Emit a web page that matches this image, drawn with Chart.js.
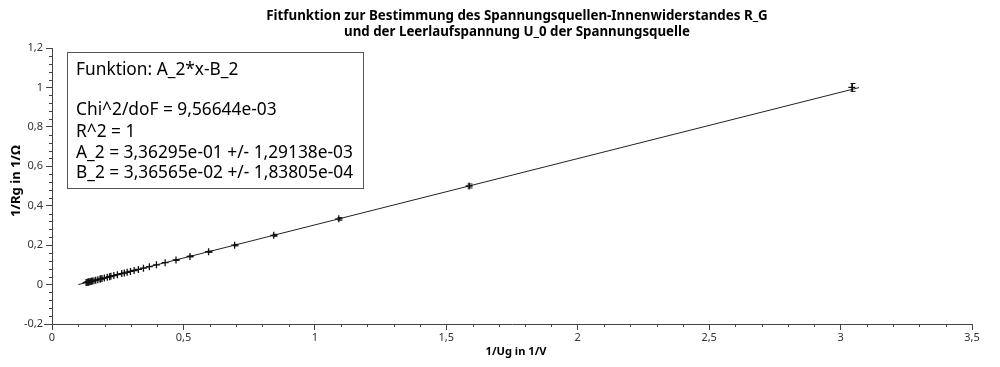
<!DOCTYPE html>
<html>
<head>
<meta charset="utf-8">
<script src="https://cdn.jsdelivr.net/npm/chart.js@4.4.1/dist/chart.umd.min.js"></script>
<style>
html, body { margin: 0; padding: 0; background: #fff; }
</style>
</head>
<body>
<canvas id="fitChart" width="1000" height="367"></canvas>
<script>
// Messwerte: 1/Ug (x) und 1/Rg (y)
const invU = [3.043, 1.587, 1.091, 0.8435, 0.6948, 0.5957, 0.5249, 0.4718, 0.4305, 0.3974,
    0.3704, 0.3479, 0.3288, 0.3125, 0.2983, 0.2859, 0.2750, 0.2653, 0.2488, 0.2353,
    0.2240, 0.2190, 0.2102, 0.1992, 0.1902, 0.1850, 0.1827, 0.1744, 0.1662, 0.1596,
    0.1532, 0.1497, 0.1480, 0.1438, 0.1397, 0.1373, 0.1364, 0.1331, 0.1298];
const invR = [1, 0.5, 0.3333, 0.25, 0.2, 0.1667, 0.1429, 0.125, 0.1111, 0.1,
    0.0909, 0.0833, 0.0769, 0.0714, 0.0667, 0.0625, 0.0588, 0.0556, 0.05, 0.0455,
    0.0417, 0.04, 0.037, 0.0333, 0.0303, 0.0286, 0.0278, 0.025, 0.0222, 0.02,
    0.0179, 0.0167, 0.0161, 0.0147, 0.0133, 0.0125, 0.0122, 0.0111, 0.01];
// Fehler in 1/Rg (nur die ersten sichtbar)
const errR = [0.02, 0.01, 0.0067, 0.005, 0.004, 0.0033, 0.0029, 0.0025];

// Fitgerade (Endpunkte)
const fitX = [0.1, 3.07];
const fitY = [0.0, 0.999];

const titleLines = [
    "Fitfunktion zur Bestimmung des Spannungsquellen-Innenwiderstandes R_G",
    "und der Leerlaufspannung U_0 der Spannungsquelle",
];
const boxLines = [
    "Funktion: A_2*x-B_2",
    "",
    "Chi^2/doF = 9,56644e-03",
    "R^2 = 1",
    "A_2 = 3,36295e-01 +/- 1,29138e-03",
    "B_2 = 3,36565e-02 +/- 1,83805e-04",
];
const xLabel = "1/Ug in 1/V";
const yLabel = "1/Rg in 1/\u03A9";

const fmt = (v) => String(Number(v.toFixed(2))).replace(".", ",");

// Schriftgroesse so waehlen, dass der Text eine bestimmte Breite hat
function fitFont(ctx, text, weight, family, targetW) {
    ctx.font = weight + " 20px " + family;
    const w = ctx.measureText(text).width;
    return weight + " " + (20 * targetW / w).toFixed(2) + "px " + family;
}

const decor = {
    id: "decor",
    afterDatasetsDraw(chart) {
        const ctx = chart.ctx;
        const xs = chart.scales.x, ys = chart.scales.y;
        ctx.save();
        ctx.strokeStyle = "#111";
        ctx.lineWidth = 1;
        errR.forEach((e, i) => {
            const px = Math.round(xs.getPixelForValue(invU[i])) + 0.5;
            const y1 = ys.getPixelForValue(invR[i] - e);
            const y2 = ys.getPixelForValue(invR[i] + e);
            ctx.beginPath();
            ctx.moveTo(px, y1); ctx.lineTo(px, y2);
            ctx.moveTo(px - 2, y1); ctx.lineTo(px + 3, y1);
            ctx.moveTo(px - 2, y2); ctx.lineTo(px + 3, y2);
            ctx.stroke();
        });
        ctx.restore();
    },
    afterDraw(chart) {
        const ctx = chart.ctx;
        const xs = chart.scales.x, ys = chart.scales.y;
        const area = chart.chartArea;
        ctx.save();

        // Nebenstriche
        ctx.strokeStyle = "#444";
        ctx.lineWidth = 1;
        ctx.beginPath();
        for (let k = 1; k < 35; k++) {
            if (k % 5 === 0) continue;
            const px = Math.round(xs.getPixelForValue(k / 10)) + 0.5;
            ctx.moveTo(px, area.bottom); ctx.lineTo(px, area.bottom + 3);
        }
        for (let k = -5; k < 30; k++) {
            if (k % 5 === 0) continue;
            const py = Math.round(ys.getPixelForValue(k * 0.04)) + 0.5;
            ctx.moveTo(area.left - 3, py); ctx.lineTo(area.left, py);
        }
        // Achsen etwas ueber den Ursprung hinaus
        ctx.moveTo(area.left - 8, area.bottom + 0.5); ctx.lineTo(area.left, area.bottom + 0.5);
        ctx.moveTo(area.left + 0.5, area.bottom); ctx.lineTo(area.left + 0.5, area.bottom + 6);
        ctx.stroke();

        // Titel
        ctx.fillStyle = "#000";
        ctx.textAlign = "center";
        ctx.textBaseline = "middle";
        ctx.font = fitFont(ctx, titleLines[0], "bold", "Noto Sans", 502);
        ctx.fillText(titleLines[0], 517, 16);
        ctx.font = fitFont(ctx, titleLines[1], "bold", "Noto Sans", 346);
        ctx.fillText(titleLines[1], 517, 32);

        // Achsenbeschriftungen
        ctx.font = fitFont(ctx, xLabel, "bold", "Noto Sans", 61);
        ctx.fillText(xLabel, 516, 352);
        ctx.save();
        ctx.translate(16, 181);
        ctx.rotate(-Math.PI / 2);
        ctx.font = fitFont(ctx, yLabel, "bold", "Noto Sans", 72);
        ctx.fillText(yLabel, 0, 0);
        ctx.restore();

        // Ergebnisbox
        ctx.fillStyle = "#fff";
        ctx.fillRect(67.5, 52.5, 296, 136);
        ctx.strokeStyle = "#555";
        ctx.strokeRect(67.5, 52.5, 296, 136);
        ctx.fillStyle = "#000";
        ctx.textAlign = "left";
        ctx.font = fitFont(ctx, boxLines[4], "normal", "Noto Sans", 277);
        const rows = [70, 90, 110, 132, 153, 173];
        boxLines.forEach((t, i) => ctx.fillText(t, 76, rows[i]));

        ctx.restore();
    },
};

const ctx = document.getElementById("fitChart").getContext("2d");
new Chart(ctx, {
    type: "scatter",
    data: {
        datasets: [
            {
                type: "line",
                data: fitX.map((x, i) => ({ x: x, y: fitY[i] })),
                borderColor: "#222",
                borderWidth: 1,
                pointRadius: 0,
                order: 2,
            },
            {
                data: invU.map((x, i) => ({ x: x, y: invR[i] })),
                pointStyle: "cross",
                pointRadius: 3.5,
                borderColor: "#111",
                borderWidth: 1.3,
                order: 1,
            },
        ],
    },
    options: {
        responsive: false,
        animation: false,
        layout: { padding: { top: 48, right: 28, left: 0, bottom: 0 } },
        plugins: {
            legend: { display: false },
            tooltip: { enabled: false },
            title: { display: false },
        },
        scales: {
            x: {
                type: "linear",
                min: 0,
                max: 3.5,
                ticks: {
                    stepSize: 0.5,
                    callback: fmt,
                    color: "#333",
                    font: { family: "Noto Sans", size: 11 },
                    padding: 1,
                    maxRotation: 0,
                },
                grid: { drawOnChartArea: false, tickLength: 6, color: "#444" },
                border: { color: "#444" },
                afterFit: (s) => { s.height = 43; },
            },
            y: {
                min: -0.2,
                max: 1.2,
                ticks: {
                    stepSize: 0.2,
                    callback: fmt,
                    color: "#333",
                    font: { family: "Noto Sans", size: 11 },
                    padding: 3,
                },
                grid: { drawOnChartArea: false, tickLength: 6, color: "#444" },
                border: { color: "#444" },
                afterFit: (s) => { s.width = 52; },
            },
        },
    },
    plugins: [decor],
});
</script>
</body>
</html>
